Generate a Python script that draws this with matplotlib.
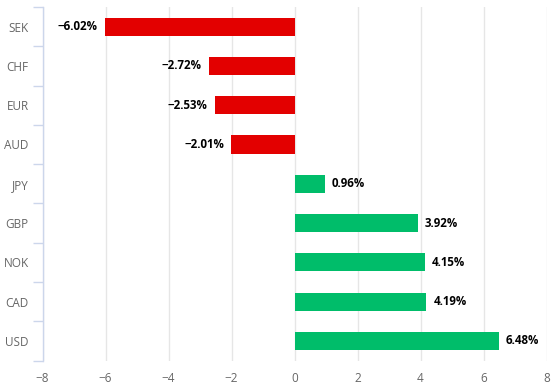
import numpy as np
import matplotlib.pyplot as plt

currencies = ["SEK", "CHF", "EUR", "AUD", "JPY", "GBP", "NOK", "CAD", "USD"]
changes = [-6.02, -2.72, -2.53, -2.01, 0.96, 3.92, 4.15, 4.19, 6.48]

plt.rcParams['font.family'] = ['Open Sans', 'DejaVu Sans']

fig = plt.figure(figsize=(5.57, 3.92), dpi=100)
ax = fig.add_axes([42.5 / 557, 1 - 360.5 / 392, 504 / 557, 353.5 / 392])

y = np.arange(len(currencies))
colors = ['#e30000' if v < 0 else '#00bd6a' for v in changes]
ax.barh(y, changes, height=0.46, color=colors, zorder=3)

for yi, v in zip(y, changes):
    txt = f"{v:.2f}%".replace('-', '\u2212')
    if v < 0:
        ax.annotate(txt, (v, yi), xytext=(-5, 0), textcoords='offset points',
                    ha='right', va='center', fontsize=8.3, fontweight='bold', color='#000000')
    else:
        ax.annotate(txt, (v, yi), xytext=(5, 0), textcoords='offset points',
                    ha='left', va='center', fontsize=8.3, fontweight='bold', color='#000000')

ax.set_xlim(-8, 8)
ax.set_ylim(len(currencies) - 0.5, -0.5)
ax.set_xticks(np.arange(-8, 9, 2))
ax.set_xticklabels([str(t).replace('-', '\u2212') for t in range(-8, 9, 2)])
ax.set_yticks(y)
ax.set_yticklabels(currencies)
ax.set_yticks(np.arange(-0.5, len(currencies), 1), minor=True)

ax.grid(axis='x', color='#e6e6e6', linewidth=1, zorder=0)
for s in ['top', 'right', 'bottom']:
    ax.spines[s].set_visible(False)
ax.spines['left'].set_color('#ccd6eb')
ax.spines['left'].set_linewidth(1)

ax.tick_params(axis='x', length=0, labelsize=8.5, labelcolor='#666666', pad=8)
ax.tick_params(axis='y', which='major', length=0, labelsize=8.5, labelcolor='#666666', pad=10)
ax.tick_params(axis='y', which='minor', length=7, color='#ccd6eb', width=1)

fig.savefig('out.png', dpi=100)
